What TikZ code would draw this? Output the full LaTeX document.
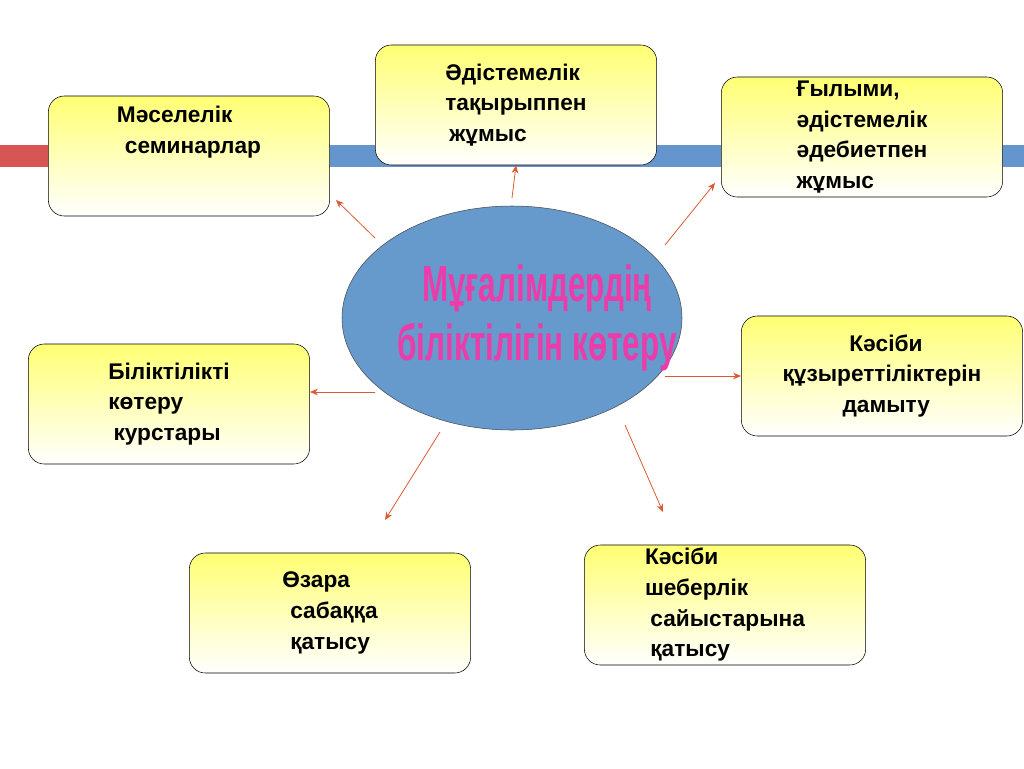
\documentclass[tikz,border=0pt]{standalone}
\usepackage{fontspec}
\setmainfont{Liberation Sans}
\usetikzlibrary{arrows.meta,shapes.geometric}
\definecolor{bandblue}{RGB}{100,150,205}
\definecolor{bandred}{RGB}{215,85,85}
\definecolor{ellblue}{RGB}{102,153,204}
\definecolor{titlepink}{RGB}{235,60,170}
\definecolor{arrowred}{RGB}{220,90,50}
\begin{document}
\begin{tikzpicture}[x=0.75pt, y=-0.75pt,
  box/.style={draw, rounded corners=12pt, top color=yellow!55, bottom color=white, minimum width=211pt, minimum height=90pt, align=left, font=\bfseries\fontsize{17}{23}\selectfont, inner sep=0pt},
  link/.style={draw=arrowred, -{Stealth[length=6pt,width=5pt]}, line width=0.6pt}]
\useasboundingbox (0,0) rectangle (1024,768);

% Bands
\fill[bandred] (0,145) rectangle (48,167);
\fill[bandblue] (330,145) rectangle (1024,167);

% Centre
\node[draw=black!70, fill=ellblue, ellipse, minimum width=255pt, minimum height=168pt, inner sep=0pt] (centre) at (512,318) {};
\node[text=titlepink, align=center, font=\bfseries\fontsize{38}{44}\selectfont, xscale=0.62] (title) at (537,318) {Мұғалімдердің\\біліктілігін көтеру};

% Boxes
\node[box] (seminar) at (189,156) {Мәселелік\\\hspace{6pt}семинарлар\\[16pt]};
\node[box] (topic) at (516,105) {Әдістемелік\\тақырыппен\\\hspace{3pt}жұмыс};
\node[box] (lit) at (862,137) {Ғылыми,\\әдістемелік\\әдебиетпен\\жұмыс};
\node[box] (comp) at (882,376) {\hspace{50pt}Кәсіби\\құзыреттіліктерін\\\hspace{45pt}дамыту};
\node[box] (course) at (169,404) {Біліктілікті\\көтеру\\\hspace{4pt}курстары};
\node[box] (visit) at (330,613) {Өзара\\\hspace{6pt}сабаққа\\\hspace{6pt}қатысу};
\node[box] (contest) at (725,605) {Кәсіби\\шеберлік\\\hspace{4pt}сайыстарына\\\hspace{4pt}қатысу};

% Arrows
\coordinate (a1) at (375,238);
\coordinate (a2) at (512,198);
\coordinate (a3) at (665,245);
\coordinate (a4) at (375,392);
\coordinate (a5) at (665,376);
\coordinate (a6) at (440,432);
\coordinate (a7) at (625,425);
\draw[link] (a1) -- (336,200);
\draw[link] (a2) -- (topic.south);
\draw[link] (a3) -- (715,183);
\draw[link] (a4) -- (course.east |- a4);
\draw[link] (a5) -- (comp.west |- a5);
\draw[link] (a6) -- (385,520);
\draw[link] (a7) -- (663,512);
\end{tikzpicture}
\end{document}
